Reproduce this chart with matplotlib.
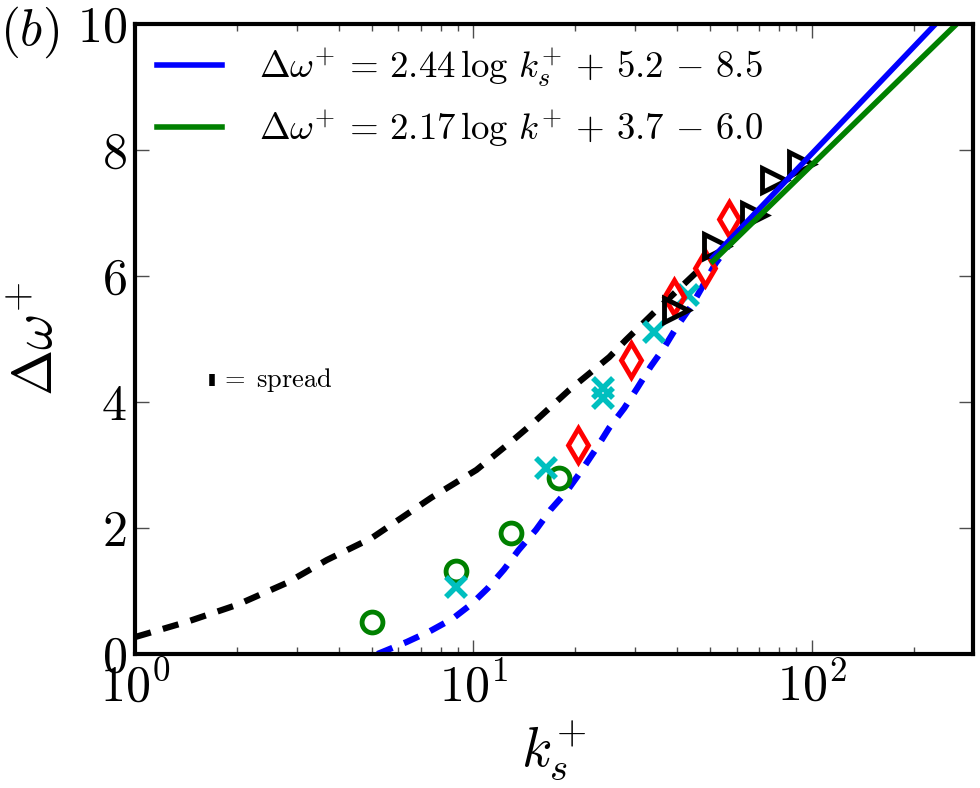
import numpy as np
import matplotlib
matplotlib.use('Agg')
import matplotlib.pyplot as plt
from matplotlib.ticker import FuncFormatter, LogLocator, FixedLocator

plt.rcParams['mathtext.fontset'] = 'cm'
plt.rcParams['font.family'] = 'serif'
plt.rcParams['font.serif'] = ['cmr10', 'DejaVu Serif']
plt.rcParams['axes.formatter.use_mathtext'] = True

# fitted log-laws (straight in log-x), end points
blue_k = [51.0, 300.0]
blue_y = [6.29, 10.62]
green_k = [51.0, 300.0]
green_y = [6.23, 10.25]

# dashed reference curves
black_k = [1.0, 1.42, 2.0, 2.81, 3.68, 5.0, 7.5, 10.2, 13.0, 14.9, 19.2, 25.2, 28.2, 35.3, 45.5]
black_y = [0.27, 0.51, 0.78, 1.13, 1.49, 1.84, 2.48, 2.92, 3.38, 3.65, 4.19, 4.71, 4.98, 5.49, 6.05]
bdash_k = [5.2, 6.34, 7.42, 8.67, 9.85, 11.0, 12.3, 13.6, 15.3, 16.9, 18.8, 20.8, 23.0, 25.2,
           27.9, 30.5, 33.4, 36.7, 39.9, 44.3, 52.0, 62.0]
bdash_y = [0.0, 0.19, 0.36, 0.56, 0.79, 1.04, 1.34, 1.65, 1.97, 2.29, 2.57, 2.90, 3.25, 3.59,
           3.90, 4.22, 4.56, 4.87, 5.19, 5.54, 6.20, 6.76]

# data sets
circ_k = [5.0, 8.9, 12.9, 17.9]
circ_y = [0.51, 1.32, 1.92, 2.79]
cross_k = [8.9, 16.4, 24.2, 24.2, 34.2, 43.0]
cross_y = [1.06, 2.95, 4.22, 4.06, 5.11, 5.70]
diam_k = [20.3, 29.3, 39.2, 48.4, 56.9]
diam_y = [3.32, 4.67, 5.67, 6.13, 6.90]
tri_k = [39.8, 52.0, 67.5, 77.3, 93.0]
tri_y = [5.46, 6.48, 6.97, 7.52, 7.78]

fig = plt.figure(figsize=(9.8, 7.88), dpi=100)
ax = fig.add_axes([0.138, 0.170, 0.855, 0.800])

ax.plot(black_k, black_y, '--', color='k', lw=4.5, dashes=(2.6, 2.0))
ax.plot(bdash_k, bdash_y, '--', color='b', lw=4.5, dashes=(2.6, 2.0))
ax.plot(circ_k, circ_y, 'o', mfc='none', mec='g', mew=3.5, ms=15, ls='none')
ax.plot(cross_k, cross_y, 'x', color='c', mew=4, ms=14, ls='none')
ax.plot(diam_k, diam_y, 'd', mfc='none', mec='r', mew=3.5, ms=17, ls='none')
ax.plot(tri_k, tri_y, '>', mfc='none', mec='k', mew=3.5, ms=17, ls='none')
ax.plot(blue_k, blue_y, '-', color='b', lw=4,
        label=r'$\Delta\omega^{+} \,=\, 2.44\,\log\,k_s^{+} \,+\, 5.2 \,-\, 8.5$')
ax.plot(green_k, green_y, '-', color='g', lw=4,
        label=r'$\Delta\omega^{+} \,=\, 2.17\,\log\,k^{+} \,+\, 3.7 \,-\, 6.0$')

# spread indicator
ax.plot([1.69], [4.35], marker='|', color='k', ms=9, mew=4, ls='none')
ax.text(1.78, 4.35, r'$=\;\mathrm{spread}$', fontsize=19, va='center', ha='left')

ax.set_xscale('log')
ax.set_xlim(1, 300)
ax.set_ylim(0, 10)
ax.yaxis.set_major_locator(FixedLocator([0, 2, 4, 6, 8, 10]))
ax.xaxis.set_major_locator(LogLocator(base=10))
ax.xaxis.set_minor_locator(LogLocator(base=10, subs=np.arange(2, 10)))
ax.xaxis.set_major_formatter(FuncFormatter(lambda v, p: r'$10^{%d}$' % int(round(np.log10(v)))))
ax.xaxis.set_minor_formatter(FuncFormatter(lambda v, p: ''))
ax.yaxis.set_major_formatter(FuncFormatter(lambda v, p: r'$%d$' % int(round(v))))

ax.tick_params(which='both', direction='in', top=True, right=True, labelsize=36, width=1, color='0.3')
ax.tick_params(which='major', length=10, pad=6)
ax.tick_params(which='minor', length=5)
for s in ax.spines.values():
    s.set_linewidth(3)

ax.set_xlabel(r'$k_s^{+}$', fontsize=40, labelpad=6)
ax.set_ylabel(r'$\Delta\omega^{+}$', fontsize=40, labelpad=10)
fig.text(0.0, 0.995, r'$(b)$', fontsize=37, ha='left', va='top')

ax.legend(loc='upper left', frameon=False, fontsize=26.5, handlelength=1.75,
          handletextpad=1.0, labelspacing=0.5, borderaxespad=0.2)

fig.savefig('out.png', dpi=100)
